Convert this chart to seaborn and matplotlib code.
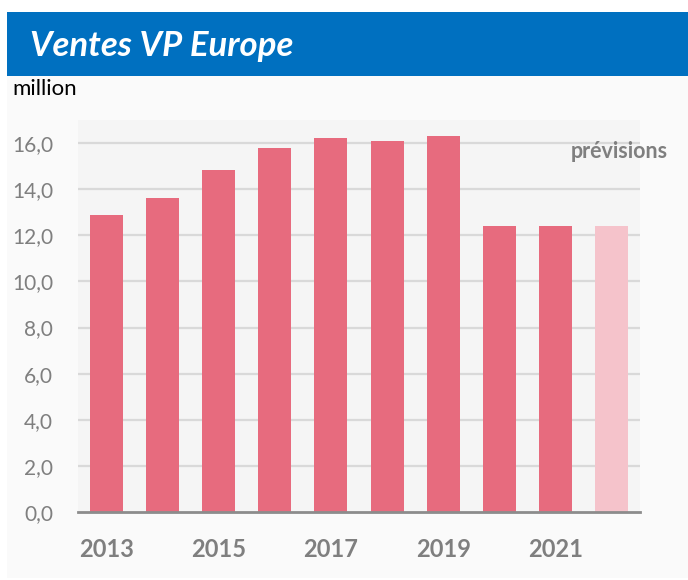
import matplotlib
matplotlib.use("Agg")
import matplotlib.pyplot as plt
import matplotlib.patches as mpatches
import seaborn as sns
import pandas as pd

years = [2013, 2014, 2015, 2016, 2017, 2018, 2019, 2020, 2021, 2022]
ventes = [12.9, 13.6, 14.85, 15.8, 16.2, 16.1, 16.3, 12.4, 12.4, 12.4]
prevision = [False, False, False, False, False, False, False, False, False, True]
yticks = [0, 2, 4, 6, 8, 10, 12, 14, 16]
xlabels = ["2013", "", "2015", "", "2017", "", "2019", "", "2021", ""]

title = "Ventes VP Europe"
unit = "million"
note = "prévisions"

sns.set_theme(style="white")
plt.rcParams['font.family'] = ['Lato', 'DejaVu Sans']

W, H = 688, 580
fig = plt.figure(figsize=(W / 100, H / 100), dpi=100)
fig.patch.set_facecolor("white")

# panel background
fig.patches.append(mpatches.Rectangle((7 / W, 2 / H), 1 - 7 / W, (H - 76 - 2) / H,
                                      transform=fig.transFigure, facecolor="#FAFAFA",
                                      edgecolor="none", zorder=-10))
# title banner
fig.patches.append(mpatches.Rectangle((7 / W, (H - 76) / H), 1 - 7 / W, 64 / H,
                                      transform=fig.transFigure, facecolor="#0070C0",
                                      edgecolor="none", zorder=-5))
fig.text(30 / W, 1 - 46 / H, title, color="white", fontsize=25, fontweight="bold",
         fontstyle="italic", va="center", ha="left")
fig.text(12 / W, 1 - 89 / H, unit, color="black", fontsize=16, va="center", ha="left")

ax = fig.add_axes([78 / W, (H - 512) / H, (640 - 78) / W, (512 - 120) / H])
ax.set_facecolor("#F5F5F5")

df = pd.DataFrame({"year": [str(y) for y in years], "ventes": ventes,
                   "prev": ["p" if p else "r" for p in prevision]})
sns.barplot(data=df, x="year", y="ventes", hue="prev",
            palette={"r": "#E76B7E", "p": "#F5C3CB"}, dodge=False,
            width=0.59, legend=False, ax=ax, zorder=3, saturation=1,
            linewidth=0, edgecolor="none")

ax.set_xlim(-0.5, len(years) - 0.5)
ax.set_ylim(0, 17)
ax.set_yticks(yticks)
ax.set_yticklabels([f"{v:.1f}".replace(".", ",") for v in yticks],
                   fontsize=15, color="#7F7F7F")
ax.set_xticks(range(len(years)))
ax.set_xticklabels(xlabels, fontsize=17, fontweight="bold", color="#7F7F7F")
ax.tick_params(axis="y", length=0, pad=18)
ax.tick_params(axis="x", length=0, pad=19)
ax.set_xlabel("")
ax.set_ylabel("")
for v in yticks[1:]:
    ax.axhline(v, color="#D9D9D9", lw=1.6, zorder=1)
for s in ["top", "right", "left"]:
    ax.spines[s].set_visible(False)
ax.spines["bottom"].set_color("#8C8C8C")
ax.spines["bottom"].set_linewidth(2)
ax.spines["bottom"].set_zorder(4)

fig.text(619 / W, 1 - 151 / H, note, color="#7F7F7F", fontsize=15.5, fontweight="bold",
         va="center", ha="center")

fig.savefig("out.png", dpi=100, facecolor=fig.get_facecolor())
